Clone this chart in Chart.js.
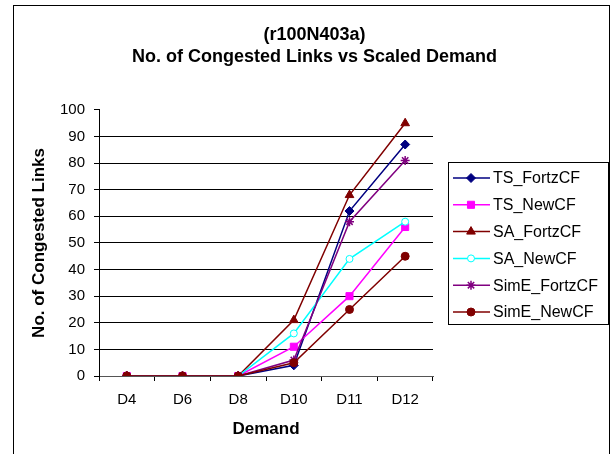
<!DOCTYPE html>
<html>
<head>
<meta charset="utf-8">
<script src="https://cdn.jsdelivr.net/npm/chart.js"></script>
<style>
  html, body { margin: 0; padding: 0; background: #fff; }
  #wrap { width: 615px; height: 454px; }
</style>
</head>
<body>
<div id="wrap"><canvas id="chart" width="615" height="454"></canvas></div>
<script>
const demands = ['D4', 'D6', 'D8', 'D10', 'D11', 'D12'];
const seriesNames = ['TS_FortzCF', 'TS_NewCF', 'SA_FortzCF', 'SA_NewCF', 'SimE_FortzCF', 'SimE_NewCF'];
const tsFortz = [0, 0, 0, 4, 62, 87];
const tsNew = [0, 0, 0, 11, 30, 56];
const saFortz = [0, 0, 0, 21, 68, 95];
const saNew = [0, 0, 0, 16, 44, 58];
const simeFortz = [0, 0, 0, 6, 58, 81];
const simeNew = [0, 0, 0, 5, 25, 45];

const seriesValues = [tsFortz, tsNew, saFortz, saNew, simeFortz, simeNew];
const lineColors = ['#000080', '#ff00ff', '#800000', '#00ffff', '#800080', '#800000'];
const markerFills = ['#000080', '#ff00ff', '#800000', '#ffffff', '#800080', '#800000'];
const markerStyles = ['rectRot', 'rect', 'triangle', 'circle', 'star', 'circle'];
const markerSizes = [4.5, 5, 5, 3.5, 4.5, 4];

Chart.defaults.font.family = '"Liberation Sans", Arial, sans-serif';
Chart.defaults.color = '#000';

// border round the whole chart, like the Excel chart area
const frame = {
  id: 'frame',
  beforeDraw(chart) {
    const ctx = chart.ctx;
    ctx.save();
    ctx.fillStyle = '#fff';
    ctx.fillRect(0, 0, chart.width, chart.height);
    ctx.strokeStyle = '#000';
    ctx.lineWidth = 1;
    ctx.strokeRect(13.5, 5.5, 596, 470);
    ctx.restore();
  }
};

// legend with line + marker samples, boxed on the right
const boxLegend = {
  id: 'boxLegend',
  afterDraw(chart) {
    const ctx = chart.ctx;
    ctx.save();
    ctx.strokeStyle = '#000';
    ctx.lineWidth = 1;
    ctx.strokeRect(448.5, 162.5, 160, 162);
    chart.data.datasets.forEach((ds, i) => {
      const y = 178 + i * 26.8;
      ctx.strokeStyle = ds.borderColor;
      ctx.lineWidth = 1.5;
      ctx.beginPath();
      ctx.moveTo(453, y);
      ctx.lineTo(490, y);
      ctx.stroke();
      ctx.fillStyle = ds.pointBackgroundColor;
      ctx.strokeStyle = ds.pointBorderColor;
      ctx.lineWidth = ds.pointBorderWidth;
      Chart.helpers.drawPoint(ctx, {
        pointStyle: ds.pointStyle,
        radius: ds.pointRadius,
        rotation: 0,
        borderWidth: ds.pointBorderWidth
      }, 471, y);
      ctx.fillStyle = '#000';
      ctx.font = '16px "Liberation Sans", Arial, sans-serif';
      ctx.textBaseline = 'middle';
      ctx.textAlign = 'left';
      ctx.fillText(ds.label, 493, y + 1);
    });
    ctx.restore();
  }
};

document.addEventListener('DOMContentLoaded', function () {
  new Chart(document.getElementById('chart'), {
    type: 'line',
    data: {
      labels: demands,
      datasets: seriesNames.map((name, i) => ({
        label: name,
        data: seriesValues[i],
        borderColor: lineColors[i],
        borderWidth: 1.5,
        pointStyle: markerStyles[i],
        pointRadius: markerSizes[i],
        pointBackgroundColor: markerFills[i],
        pointBorderColor: lineColors[i],
        pointBorderWidth: markerStyles[i] === 'star' ? 1.5 : 1,
        fill: false,
        tension: 0,
        order: seriesNames.length - i,
      })),
    },

    options: {
      responsive: false,
      animation: false,
      events: [],
      layout: {
        padding: { left: 14, right: 0, top: 0, bottom: 0 },
      },
      plugins: {
        legend: { display: false },
        tooltip: { enabled: false },
        title: {
          display: true,
          text: ['(r100N403a)', 'No. of Congested Links vs Scaled Demand'],
          font: { size: 18, weight: 'bold', lineHeight: 1.22 },
          color: '#000',
          padding: { top: 24, bottom: 42 },
        },
      },
      scales: {
        x: {
          offset: true,
          grid: {
            offset: true,
            drawOnChartArea: false,
            drawTicks: true,
            tickLength: 5,
            color: '#000',
          },
          border: { color: '#555' },
          ticks: { font: { size: 15 }, color: '#000', padding: 10, maxRotation: 0 },
          title: {
            display: true,
            text: 'Demand',
            font: { size: 17, weight: 'bold' },
            color: '#000',
            padding: { top: 0, bottom: 14 },
          },
          afterFit: (s) => { s.height = 78; },
        },
        y: {
          min: 0,
          max: 100,
          ticks: { stepSize: 10, font: { size: 15 }, color: '#000', padding: 9 },
          grid: {
            color: (c) => (c.tick && c.tick.value === 100 ? 'rgba(0,0,0,0)' : '#000'),
            tickColor: '#000',
            tickLength: 5,
          },
          border: { color: '#000' },
          title: {
            display: true,
            text: 'No. of Congested Links',
            font: { size: 17, weight: 'bold' },
            color: '#000',
            padding: { top: 15, bottom: 0 },
          },
          afterFit: (s) => { s.width = 85; },
        },
        spacer: {
          type: 'linear',
          position: 'right',
          display: true,
          grid: { display: false },
          ticks: { display: false },
          border: { display: false },
          afterFit: (s) => { s.width = 182; },
        },
      },
    },
    plugins: [frame, boxLegend],
  })
})
</script>
</body>
</html>
